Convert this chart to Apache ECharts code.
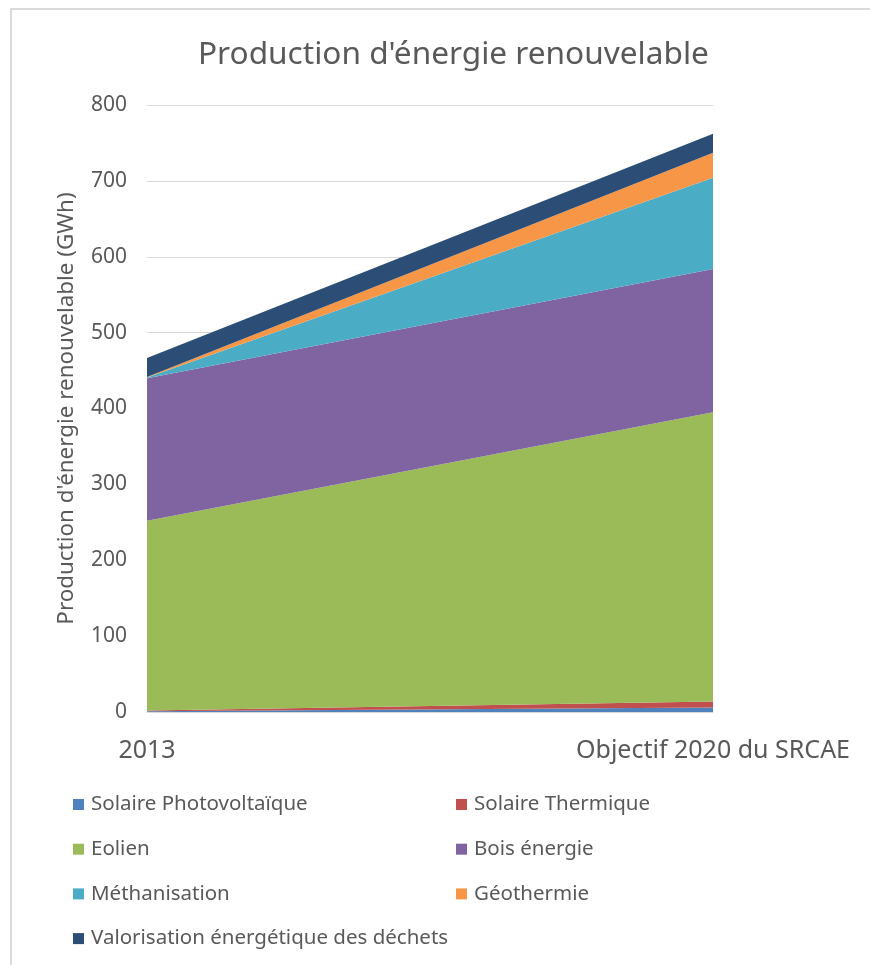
<!DOCTYPE html>
<html>
<head>
<meta charset="utf-8">
<script src="https://cdn.jsdelivr.net/npm/echarts@6/dist/echarts.min.js"></script>
<style>
    html, body { margin: 0; padding: 0; background: #fff; }
    .chart-root { position: relative; width: 870px; height: 965px; }
    .frame { position: absolute; left: 10px; top: 8px; width: 870px; height: 970px;
             border-left: 2px solid #d9d9d9; border-top: 2px solid #d9d9d9; pointer-events: none; }
</style>
</head>
<body>
<div class="chart-root" id="chart_dom"></div>
<div class="frame"></div>
<script>
// categories and values (GWh)
const categories = ['2013', 'Objectif 2020 du SRCAE']
const seriesNames = [
    'Solaire Photovoltaïque',
    'Solaire Thermique',
    'Eolien',
    'Bois énergie',
    'Méthanisation',
    'Géothermie',
    'Valorisation énergétique des déchets',
]
const photovoltaique = [1, 6]
const thermique = [1, 8]
const eolien = [250, 381]
const boisEnergie = [188, 189]
const methanisation = [1, 120]
const geothermie = [0.5, 33]
const dechets = [25, 25]
const yTicks = [0, 100, 200, 300, 400, 500, 600, 700, 800]

const colors = ['#4f81bd', '#c0504d', '#9bbb59', '#8064a2', '#4bacc6', '#f79646', '#2c4d75']
const values = [photovoltaique, thermique, eolien, boisEnergie, methanisation, geothermie, dechets]
const font = '"Noto Sans", sans-serif'

let legendBase = {
    orient: 'vertical',
    top: 794,
    padding: 0,
    itemWidth: 11,
    itemHeight: 11,
    itemGap: 23.7,
    icon: 'rect',
    textStyle: { fontFamily: font, fontSize: 20.5, color: '#595959', padding: [0, 0, 0, 2] },
}

let chart = echarts.init(document.getElementById('chart_dom'))
let options = {
    color: colors,
    textStyle: { fontFamily: font },
    title: {
        text: "Production d'énergie renouvelable",
        left: 193,
        top: 34,
        textStyle: { fontFamily: font, fontSize: 31.6, fontWeight: 'normal', color: '#595959' },
    },
    legend: [
        Object.assign({}, legendBase, {
            left: 73,
            data: [seriesNames[0], seriesNames[2], seriesNames[4], seriesNames[6]],
        }),
        Object.assign({}, legendBase, {
            left: 456,
            data: [seriesNames[1], seriesNames[3], seriesNames[5]],
        }),
    ],
    grid: {
        left: 147,
        right: 157,
        top: 105,
        bottom: 253,
    },
    xAxis: {
        type: 'category',
        boundaryGap: false,
        data: categories,
        axisTick: { show: false },
        axisLine: { show: true, lineStyle: { color: '#d9d9d9', width: 1 } },
        axisLabel: {
            margin: 26,
            fontSize: 25,
            color: '#595959',
            fontFamily: font,
        },
    },
    yAxis: {
        type: 'value',
        min: yTicks[0],
        max: yTicks[yTicks.length - 1],
        interval: 100,
        name: "Production d'énergie renouvelable (GWh)",
        nameLocation: 'middle',
        nameGap: 69,
        nameTextStyle: { fontFamily: font, fontSize: 22.4, color: '#595959' },
        axisLine: { show: false },
        axisTick: { show: false },
        splitLine: { show: true, lineStyle: { color: '#d9d9d9', width: 1 } },
        axisLabel: { margin: 20, fontSize: 21, color: '#595959', fontFamily: font },
    },
    series: seriesNames.map((name, i) => ({
        name: name,
        type: 'line',
        stack: 'total',
        symbol: 'none',
        lineStyle: { width: 0 },
        areaStyle: { opacity: 1 },
        data: values[i],
    })),
}
chart.setOption(options)
</script>
</body>
</html>
